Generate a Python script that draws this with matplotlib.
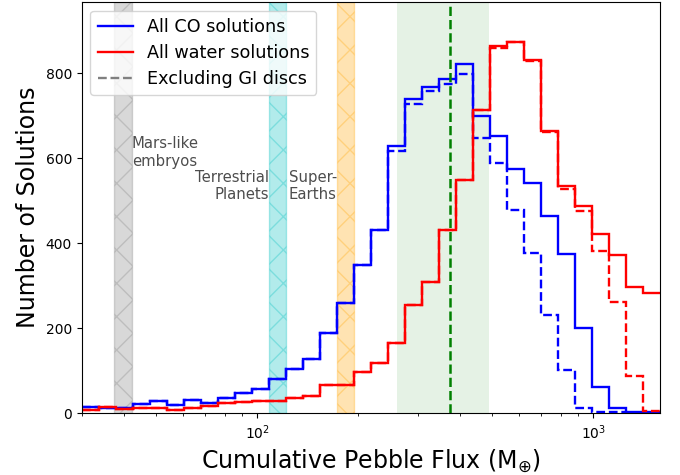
import numpy as np
import matplotlib
matplotlib.use("Agg")
import matplotlib.pyplot as plt
from matplotlib.lines import Line2D

# Histogram binning (34 log-spaced bins)
flux_min, flux_max, n_bins = 30.0, 1580.0, 34
edges = np.logspace(np.log10(flux_min), np.log10(flux_max), n_bins + 1)

# Counts per bin
co_all = [14, 12, 12, 22, 30, 19, 32, 25, 35, 47, 58, 80, 104, 127, 189, 260, 350,
          432, 628, 739, 767, 786, 822, 700, 653, 574, 543, 464, 376, 200, 63, 12, 3, 2]
co_no_gi = [14, 12, 12, 22, 30, 19, 32, 25, 35, 47, 58, 80, 104, 127, 189, 260, 350,
            432, 617, 727, 759, 775, 798, 649, 590, 478, 377, 232, 102, 12, 3, 2, 0, 0]
water_all = [8, 14, 11, 13, 12, 8, 13, 18, 24, 27, 28, 30, 35, 41, 66, 66, 97,
             119, 166, 254, 309, 432, 549, 713, 865, 875, 832, 664, 535, 487, 422, 372, 297, 283]
water_no_gi = [8, 14, 11, 13, 12, 8, 13, 18, 24, 27, 28, 30, 35, 41, 66, 66, 97,
               119, 166, 254, 309, 432, 549, 713, 860, 873, 829, 663, 527, 476, 383, 263, 88, 5]

# Planet-mass reference bands
mars_band = (37.5, 42.3)
terrestrial_band = (108.2, 121.6)
super_earth_band = (172.4, 193.7)
range_band = (260.0, 490.0)
median_flux = 374.0

fig = plt.figure(figsize=(6.8, 4.75), dpi=100)
ax = fig.add_axes([0.1201, 0.1299, 0.8504, 0.8659])

ax.axvspan(*mars_band, facecolor="gray", edgecolor="gray", alpha=0.3, hatch="x", lw=1)
ax.axvspan(*terrestrial_band, facecolor="c", edgecolor="c", alpha=0.3, hatch="x", lw=1)
ax.axvspan(*super_earth_band, facecolor="orange", edgecolor="orange", alpha=0.3, hatch="x", lw=1)
ax.axvspan(*range_band, color="green", alpha=0.1, lw=0)
ax.axvline(median_flux, color="green", ls="--", lw=1.8)

lw = 1.7
ax.stairs(co_all, edges, color="blue", lw=lw, baseline=None)
ax.stairs(co_no_gi, edges, color="blue", lw=lw, ls="--", baseline=None)
ax.stairs(water_all, edges, color="red", lw=lw, baseline=None)
ax.stairs(water_no_gi, edges, color="red", lw=lw, ls="--", baseline=None)

txt_color = "0.3"
ax.text(mars_band[1], 652, "Mars-like\nembryos", ha="left", va="top",
        fontsize=10.7, color=txt_color)
ax.text(terrestrial_band[0], 573, "Terrestrial\nPlanets", ha="right", va="top",
        fontsize=10.7, color=txt_color)
ax.text(super_earth_band[0], 573, "Super-\nEarths", ha="right", va="top",
        multialignment="left", fontsize=10.7, color=txt_color)

ax.set_xscale("log")
ax.set_xlim(flux_min, flux_max)
ax.set_ylim(0, 968)
ax.set_yticks([0, 200, 400, 600, 800])
ax.set_xlabel(r"Cumulative Pebble Flux (M$_{\oplus}$)", fontsize=17)
ax.set_ylabel("Number of Solutions", fontsize=17)

handles = [Line2D([], [], color="blue", lw=lw),
           Line2D([], [], color="red", lw=lw),
           Line2D([], [], color="gray", lw=lw, ls="--")]
ax.legend(handles, ["All CO solutions", "All water solutions", "Excluding GI discs"],
          loc="upper left", fontsize=12.7, labelspacing=0.45)

fig.savefig("out.png", dpi=100)
